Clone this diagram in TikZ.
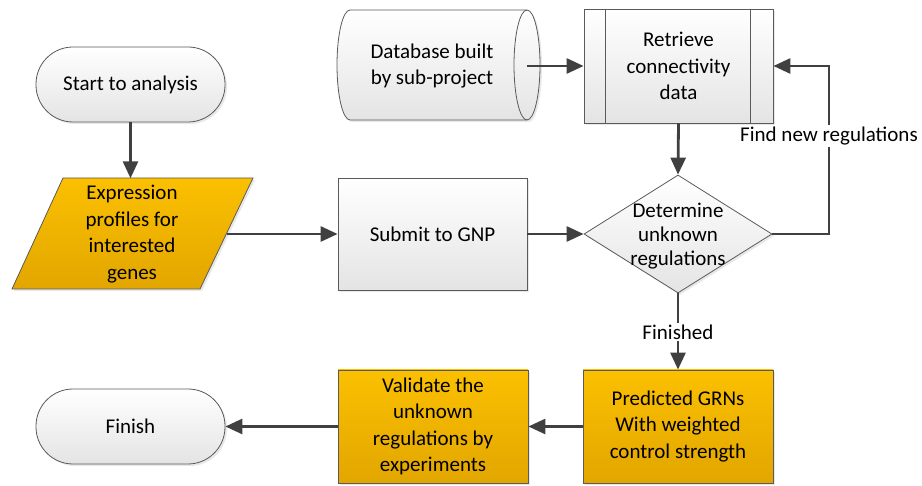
\documentclass[tikz,border=0pt]{standalone}
\usepackage{fontspec}
\setmainfont{Carlito}
\usetikzlibrary{shapes.geometric,arrows.meta,shadows,calc}
\definecolor{edge}{HTML}{404040}
\definecolor{outline}{HTML}{5A5A5A}
\definecolor{boxtop}{HTML}{FFFFFF}
\definecolor{boxbot}{HTML}{E4E4E4}
\definecolor{ortop}{HTML}{FBC000}
\definecolor{orbot}{HTML}{E2A600}
\begin{document}
\begin{tikzpicture}[x=1pt,y=-1pt,
  font=\fontsize{21}{26.5}\selectfont,
  softshadow/.style={drop shadow={shadow xshift=2pt,shadow yshift=-2pt,opacity=0.18}},
  graybox/.style={draw=outline,line width=0.8pt,top color=boxtop,bottom color=boxbot,softshadow},
  orangebox/.style={draw=outline,line width=0.8pt,top color=ortop,bottom color=orbot,softshadow},
  proc/.style={rectangle,minimum width=190pt,minimum height=113pt,align=center,inner sep=0pt},
  term/.style={rectangle,rounded corners=37pt,minimum width=189pt,minimum height=75pt,inner sep=0pt,align=center},
  txt/.style={align=center,inner sep=0pt},
  flow/.style={draw=edge,line width=2.8pt,-{Triangle[length=17pt,width=15pt]}},
  tag/.style={fill=white,inner sep=2pt}
]
\useasboundingbox (0,0) rectangle (922,486);

% terminators
\node[term,graybox] (start) at (130.5,84.5) {Start to analysis};
\node[term,graybox] (fin) at (130.5,426.5) {Finish};

% input data (parallelogram)
\path[orangebox] (63,178) -- (253,178) -- (200,289) -- (12,289) -- cycle;
\node[txt,minimum width=189pt,minimum height=111pt] (expr) at (132,234)
  {Expression\\profiles for\\interested\\genes};

% stored database (horizontal cylinder)
\path[graybox] (350,10) -- (527,10)
  arc[start angle=90,end angle=-90,x radius=13pt,y radius=55pt]
  -- (350,120)
  arc[start angle=-90,end angle=-270,x radius=13pt,y radius=55pt] -- cycle;
\draw[outline,line width=0.8pt] (527,10)
  arc[start angle=90,end angle=270,x radius=13pt,y radius=55pt];
\node[txt,minimum width=190pt,minimum height=110pt] (db) at (432,66)
  {Database built\\by sub-project};

% predefined process
\node[proc,graybox,minimum width=189pt,minimum height=114pt] (ret) at (678.5,66)
  {Retrieve\\connectivity\\data};
\draw[outline,line width=0.8pt] ($(ret.north west)+(22,0)$) -- ($(ret.south west)+(22,0)$);
\draw[outline,line width=0.8pt] ($(ret.north east)+(-23,0)$) -- ($(ret.south east)+(-23,0)$);

% process steps
\node[proc,graybox,minimum width=189pt,minimum height=112pt] (sub) at (432.5,234) {Submit to GNP};
\node[diamond,graybox,minimum width=188pt,minimum height=118pt,inner sep=0pt] (dia) at (678,234) {};
\node[txt,font=\fontsize{21}{24}\selectfont] (diatext) at (678,236) {Determine\\unknown\\regulations};
\node[proc,orangebox] (pred) at (678,426.5) {Predicted GRNs\\With weighted\\control strength};
\node[proc,orangebox] (val) at (433,426.5) {Validate the\\unknown\\regulations by\\experiments};

% connectors
\coordinate (loop) at (829,234);
\draw[flow] (start.south) -- (start.south |- expr.north);
\draw[flow] (expr.east) -- (sub.west);
\draw[flow] (sub.east) -- (dia.west);
\draw[flow] (db.east) -- (ret.west);
\draw[flow] (ret.south) -- (dia.north);
\draw[flow] (dia.east) -- (loop) -- (loop |- ret.east) -- (ret.east);
\draw[flow] (dia.south) -- (pred.north);
\draw[flow] (pred.west) -- (val.east);
\draw[flow] (val.west) -- (fin.east);

% connector labels
\node[tag] (findlbl) at (829,136) {Find new regulations};
\node[tag] (donelbl) at (678,332) {Finished};
\end{tikzpicture}
\end{document}
